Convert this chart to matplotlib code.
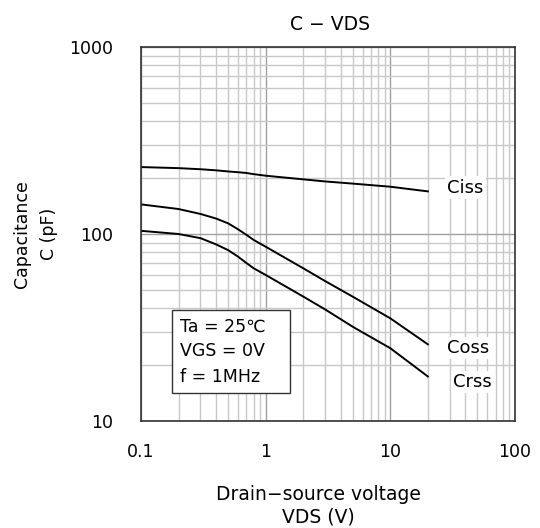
import matplotlib
matplotlib.use("Agg")
import matplotlib.pyplot as plt
from matplotlib.patches import Rectangle
from matplotlib.ticker import LogLocator, FixedLocator, NullFormatter

vds = [0.1, 0.2, 0.3, 0.4, 0.5, 0.6, 0.7, 0.8, 1, 2, 3, 5, 10, 20]
ciss = [228, 225, 222, 219, 216, 214, 212, 209, 205, 196, 191, 186, 179, 169]
coss = [144, 136, 128, 121, 114, 106, 99, 93, 85.5, 65.6, 56, 46.2, 35.4, 25.7]
crss = [104, 100, 95, 88, 82, 75.7, 70, 65.6, 60.4, 46.3, 39.5, 31.9, 24.5, 17.3]
xticks = [0.1, 1, 10, 100]
xtick_labels = ["0.1", "1", "10", "100"]
yticks = [10, 100, 1000]
ytick_labels = ["10", "100", "1000"]

plt.rcParams['font.family'] = ['DejaVu Sans']

fig = plt.figure(figsize=(5.4, 5.28), dpi=100)
ax = fig.add_axes([141/540, 1 - 421/528, 374/540, 374/528])
ax.set_xscale('log')
ax.set_yscale('log')
ax.set_xlim(0.1, 100)
ax.set_ylim(10, 1000)

ax.xaxis.set_major_locator(FixedLocator(xticks))
ax.yaxis.set_major_locator(FixedLocator(yticks))
ax.xaxis.set_minor_locator(LogLocator(base=10, subs=range(2, 10)))
ax.yaxis.set_minor_locator(LogLocator(base=10, subs=range(2, 10)))
ax.xaxis.set_minor_formatter(NullFormatter())
ax.yaxis.set_minor_formatter(NullFormatter())
ax.set_xticklabels(xtick_labels)
ax.set_yticklabels(ytick_labels)
ax.tick_params(which='both', length=0, labelsize=12.5)
ax.tick_params(axis='x', pad=16)
ax.tick_params(axis='y', pad=20)

ax.grid(True, which='minor', color='#c8c8c8', linewidth=1.0)
ax.grid(True, which='major', color='#a0a0a0', linewidth=1.0)
ax.set_axisbelow(True)
for s in ax.spines.values():
    s.set_linewidth(1.2)
    s.set_color('#333333')

for ys in (ciss, coss, crss):
    ax.plot(vds, ys, color='black', linewidth=1.4)

lbl = dict(fontsize=13, va='center', ha='left',
           bbox=dict(facecolor='white', edgecolor='none', pad=1.5))
ax.text(28.5, 177, "Ciss", **lbl)
ax.text(28.5, 24.6, "Coss", **lbl)
ax.text(32, 16.1, "Crss", **lbl)

ax.add_patch(Rectangle((31/374, 28/374), 118/374, 83/374, transform=ax.transAxes,
                       facecolor='white', edgecolor='#333333', linewidth=1.0, zorder=3))
ax.text(39/374, 69.5/374, "Ta = 25\u2103\nVGS = 0V\nf = 1MHz", fontsize=12.5,
        va='center', ha='left', linespacing=1.5, transform=ax.transAxes, zorder=4,
        family=['DejaVu Sans', 'Noto Sans CJK JP'])

fig.text(330/540, 1 - 24/528, "C \u2212 VDS", fontsize=13.5, ha='center', va='center')
fig.text(318/540, 1 - 495/528, "Drain\u2212source voltage", fontsize=13.5,
         ha='center', va='center')
fig.text(318/540, 1 - 517/528, "VDS (V)", fontsize=13.5,
         ha='center', va='center')
fig.text(22/540, 1 - 234/528, "Capacitance", fontsize=12.5, rotation=90,
         ha='center', va='center')
fig.text(49/540, 1 - 234/528, "C (pF)", fontsize=12.5, rotation=90,
         ha='center', va='center')

fig.savefig("out.png", dpi=100)
